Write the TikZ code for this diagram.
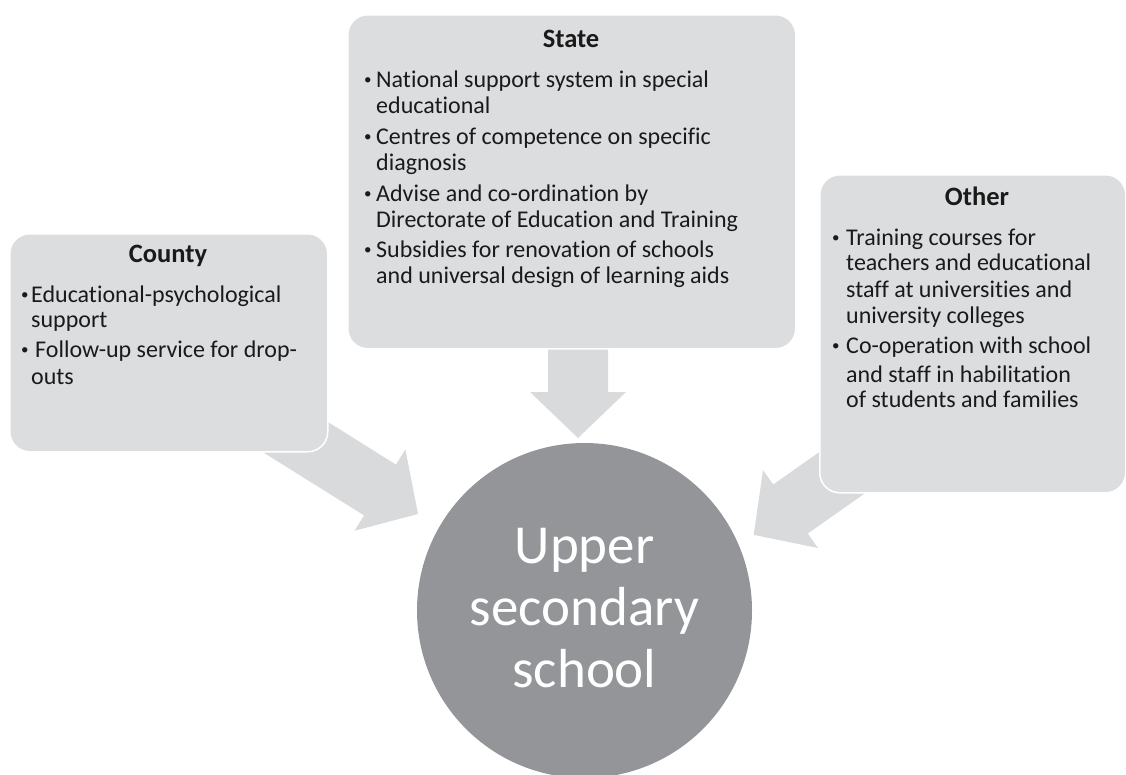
\documentclass[tikz,border=0pt]{standalone}
\usepackage{fontspec}
\setmainfont{Carlito}[Ligatures={NoCommon}]
\definecolor{boxfill}{HTML}{DCDDDF}
\definecolor{arrowfill}{HTML}{D9DADC}
\definecolor{circfill}{HTML}{939598}
\definecolor{txt}{HTML}{1A1A1A}
\begin{document}
\begin{tikzpicture}[x=1pt,y=-1pt,
  panel/.style={fill=boxfill, draw=white, line width=1.5pt, rounded corners=20pt, anchor=north west, inner sep=0pt},
  blockarrow/.style={fill=arrowfill, draw=none},
  ttl/.style={font=\fontsize{26.5}{28}\selectfont\bfseries, text=txt, anchor=base, inner sep=0pt},
  body/.style={font=\fontsize{24}{26}\selectfont, text=txt, anchor=base west, inner sep=0pt},
  bul/.style={font=\fontsize{15}{16}\selectfont, text=txt, anchor=base west, inner sep=0pt, yshift=2.5pt},
  big/.style={font=\fontsize{55}{60}\selectfont, text=white, anchor=base, inner sep=0pt}
]
\useasboundingbox (0,0) rectangle (1126,774);

% block arrows (drawn under the boxes)
\coordinate (stateTip) at (578,438);
\fill[blockarrow] (548,340) -- (608,340) -- (608,392) -- (626,392) -- (stateTip) -- (530,392) -- (548,392) -- cycle;
\coordinate (countyTip) at (418,514);
\fill[blockarrow] (245,441) -- (277,390) -- (395.9,464.6) -- (405.4,449.3) -- (countyTip) -- (354.6,530.7) -- (364.1,515.4) -- cycle;
\coordinate (otherTip) at (753.7,534.9);
\fill[blockarrow] (922.3,452.9) -- (887.7,403.9) -- (773.2,484.5) -- (763,470) -- (otherTip) -- (818,548) -- (807.8,533.5) -- cycle;

% boxes
\node[panel, minimum width=448pt, minimum height=334pt] (state) at (347,14) {};
\node[panel, minimum width=318pt, minimum height=218pt] (county) at (9,233) {};
\node[panel, minimum width=306pt, minimum height=318pt] (other) at (819,174) {};

% titles
\node[ttl] (stateT) at (571,47) {State};
\node[ttl] (countyT) at (168,262) {County};
\node[ttl] (otherT) at (977,205) {Other};

% State items
\node[bul] (sb1) at (364,87) {•};
\node[body] (s1) at (376,87) {National support system in special};
\node[body] (s2) at (376,113) {educational};
\node[bul] (sb2) at (364,144) {•};
\node[body] (s3) at (376,144) {Centres of competence on specific};
\node[body] (s4) at (376,170) {diagnosis};
\node[bul] (sb3) at (364,201) {•};
\node[body] (s5) at (376,201) {Advise and co-ordination by};
\node[body] (s6) at (376,227) {Directorate of Education and Training};
\node[bul] (sb4) at (364,257) {•};
\node[body] (s7) at (376,257) {Subsidies for renovation of schools};
\node[body] (s8) at (376,283) {and universal design of learning aids};

% County items
\node[bul] (cb1) at (21,302) {•};
\node[body] (c1) at (31,302) {Educational-psychological};
\node[body] (c2) at (31,327) {support};
\node[bul] (cb2) at (21,357) {•};
\node[body] (c3) at (35,357) {Follow-up service for drop-};
\node[body] (c4) at (31,384) {outs};

% Other items
\node[bul] (ob1) at (832,245) {•};
\node[body] (o1) at (846,245) {Training courses for};
\node[body] (o2) at (846,270) {teachers and educational};
\node[body] (o3) at (846,297) {staff at universities and};
\node[body] (o4) at (846,323) {university colleges};
\node[bul] (ob2) at (832,353) {•};
\node[body] (o5) at (846,353) {Co-operation with school};
\node[body] (o6) at (846,382) {and staff in habilitation};
\node[body] (o7) at (846,407) {of students and families};

% central circle
\node[circle, fill=circfill, minimum size=335pt, inner sep=0pt] (school) at (584.5,610.5) {};
\node[big] (u1) at (584.5,563) {Upper};
\node[big] (u2) at (584.5,625) {secondary};
\node[big] (u3) at (584.5,687) {school};
\end{tikzpicture}
\end{document}
